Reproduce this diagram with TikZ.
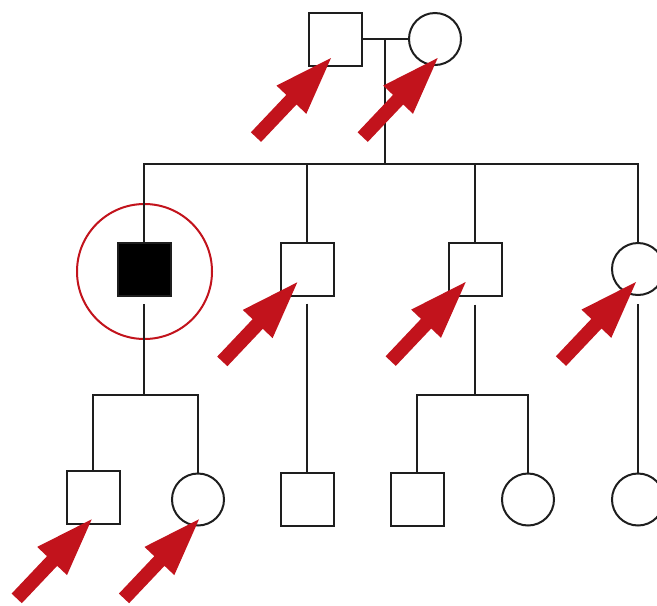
\documentclass[tikz,border=0pt]{standalone}
\usetikzlibrary{calc}
\definecolor{arrowred}{RGB}{194,19,28}
\definecolor{ink}{RGB}{30,30,30}
\begin{document}
\begin{tikzpicture}[x=1pt,y=-1pt,
  line width=2pt,
  male/.style={draw=ink,rectangle,minimum size=53pt,inner sep=0pt,outer sep=0pt,line width=2pt},
  affected/.style={male,fill=black},
  female/.style={draw=ink,circle,minimum size=52pt,inner sep=0pt,outer sep=0pt,line width=2pt},
  ring/.style={draw=arrowred,circle,minimum size=135pt,inner sep=0pt,line width=2pt},
  link/.style={draw=ink,line width=2pt},
  redarrow/.pic={\fill[arrowred] (0,0) -- (-54.5,27.6) -- (-44.7,36.9) -- (-80.1,74.3) -- (-69.9,83.9) -- (-34.5,46.5) -- (-24.7,55.8) -- cycle;}
]
\useasboundingbox (0,0) rectangle (657,606);
\clip (0,0) rectangle (657,606);
\fill[white] (0,0) rectangle (657,606);
% generation I
\node[male] (f) at (335.5,39) {};
\node[female] (m) at (435,39) {};
% generation II
\node[affected] (c1) at (144,269.5) {};
\node[male] (c2) at (307,269) {};
\node[male] (c3) at (475,269) {};
\node[female] (c4) at (638,269) {};
\node[ring] (r) at (144.5,271.5) {};
% generation III
\node[male] (g1) at (93,497.5) {};
\node[female] (g2) at (198,499.5) {};
\node[male] (g3) at (307,499.5) {};
\node[male] (g4) at (417,499.5) {};
\node[female] (g5) at (528,499.5) {};
\node[female] (g6) at (638,499.5) {};
% connectors
\coordinate (mid) at (385,39);
\coordinate (sib) at (385,164);
\coordinate (s1) at (144,395);
\coordinate (s3) at (475,395);
\draw[link] (f) -- (m);
\draw[link] (mid) -- (sib);
\draw[link] (c1.north) |- (sib) -| (c4.north);
\draw[link] (c2.north) -- (c2.north |- sib);
\draw[link] (c3.north) -- (c3.north |- sib);
\draw[link] ($(c1.south)+(0,8)$) -- (s1);
\draw[link] (g1.north) |- (s1) -| (g2.north);
\draw[link] ($(c2.south)+(0,8)$) -- (g3.north);
\draw[link] ($(c3.south)+(0,9)$) -- (s3);
\draw[link] (g4.north) |- (s3) -| (g5.north);
\draw[link] ($(c4.south)+(0,9)$) -- (g6.north);
% arrows
\pic at (331,58) {redarrow};
\pic at (437.7,58) {redarrow};
\pic at (297.3,282.3) {redarrow};
\pic at (465.7,282) {redarrow};
\pic at (636,282) {redarrow};
\pic at (91.7,519.3) {redarrow};
\pic at (199,519.3) {redarrow};
\end{tikzpicture}
\end{document}
